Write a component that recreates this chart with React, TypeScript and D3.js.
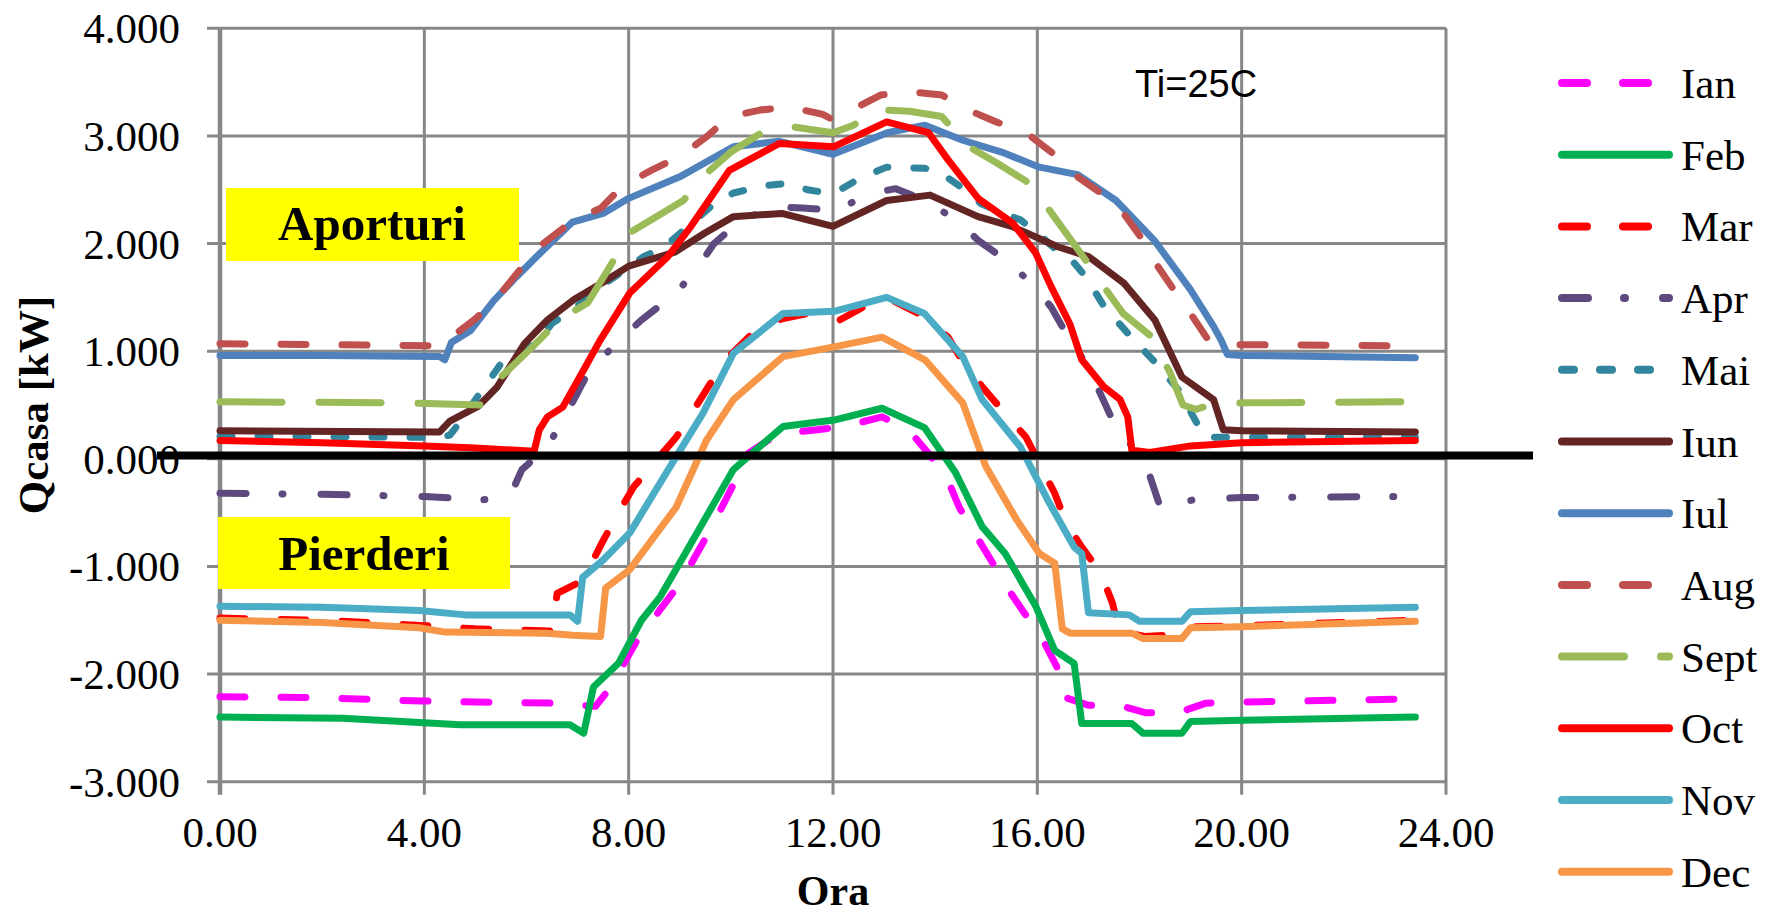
import React from 'react';
import * as d3 from 'd3';

type Pt = [number, number];

const months = ['Ian', 'Feb', 'Mar', 'Apr', 'Mai', 'Iun', 'Iul', 'Aug', 'Sept', 'Oct', 'Nov', 'Dec'];
const yTicks = [-3, -2, -1, 0, 1, 2, 3, 4];
const xTicks = [0, 4, 8, 12, 16, 20, 24];
const zeroLineValue = 0.03;

const ian: Pt[] = [[0,-2.21],[2,-2.22],[3.94,-2.25],[5,-2.26],[6.5,-2.27],[7.35,-2.3],[7.65,-2.12],[8.17,-1.68],[8.62,-1.4],[9.0,-1.16],[9.3,-0.91],[9.6,-0.66],[9.9,-0.38],[10.12,-0.17],[10.34,0.05],[10.72,0.17],[11.09,0.24],[11.7,0.27],[12.22,0.3],[12.96,0.39],[13.48,0.27],[13.87,0.05],[14.25,-0.2],[14.47,-0.45],[14.77,-0.69],[15.09,-0.94],[15.44,-1.22],[15.74,-1.43],[16.04,-1.62],[16.38,-1.93],[16.49,-2.21],[17.0,-2.29],[17.6,-2.29],[18.13,-2.36],[18.75,-2.36],[19.3,-2.27],[20,-2.26],[23.4,-2.23]];
const feb: Pt[] = [[0,-2.4],[2.4,-2.41],[4.7,-2.47],[6.85,-2.47],[7.12,-2.55],[7.31,-2.12],[7.8,-1.9],[8.25,-1.5],[8.62,-1.28],[9.07,-0.91],[10.05,-0.1],[11.02,0.3],[12.02,0.36],[12.96,0.47],[13.79,0.29],[14.4,-0.13],[14.92,-0.63],[15.37,-0.88],[15.97,-1.37],[16.34,-1.78],[16.72,-1.9],[16.87,-2.46],[17.85,-2.46],[18.07,-2.55],[18.83,-2.55],[19.0,-2.44],[20,-2.43],[23.4,-2.4]];
const mar: Pt[] = [[0,-1.48],[2,-1.5],[4,-1.55],[5,-1.58],[6.5,-1.6],[6.6,-1.25],[7.1,-1.13],[7.5,-0.76],[7.8,-0.5],[8.1,-0.26],[8.55,-0.01],[8.93,0.2],[9.23,0.42],[9.6,0.7],[9.9,0.92],[10.5,1.2],[11.0,1.3],[11.5,1.35],[12.13,1.29],[12.75,1.45],[13.05,1.5],[13.8,1.32],[14.25,1.13],[14.6,0.86],[14.92,0.67],[15.37,0.42],[15.78,0.2],[16.04,-0.04],[16.34,-0.32],[16.57,-0.6],[16.87,-0.82],[17.24,-1.06],[17.47,-1.34],[17.6,-1.6],[18.1,-1.65],[18.9,-1.63],[19.1,-1.56],[20,-1.55],[23.4,-1.5]];
const apr: Pt[] = [[0,-0.32],[2,-0.33],[4,-0.35],[5.15,-0.38],[5.6,-0.36],[5.73,-0.29],[5.91,-0.1],[6.41,0.11],[6.85,0.48],[7.16,0.76],[7.7,1.05],[8.25,1.29],[8.93,1.54],[9.37,1.79],[9.67,2.0],[10.2,2.22],[10.87,2.34],[11.4,2.33],[12.07,2.31],[12.75,2.47],[13.23,2.51],[13.7,2.42],[14.43,2.22],[14.84,2.03],[15.37,1.85],[15.89,1.63],[16.27,1.41],[16.57,1.16],[17.0,0.85],[17.23,0.61],[17.5,0.33],[18.07,-0.01],[18.21,-0.17],[18.4,-0.44],[19.07,-0.38],[20,-0.36],[23.4,-0.35]];
const mai: Pt[] = [[0,0.21],[4.3,0.2],[4.5,0.22],[4.68,0.33],[5.0,0.55],[5.36,0.79],[5.6,0.95],[6.2,1.07],[6.5,1.26],[6.8,1.35],[7.16,1.48],[7.6,1.65],[8.3,1.88],[8.7,1.97],[9.6,2.34],[10.05,2.47],[10.7,2.54],[11.13,2.56],[11.5,2.5],[11.9,2.47],[12.14,2.5],[12.43,2.58],[12.75,2.65],[13.05,2.71],[13.8,2.7],[14.13,2.65],[14.46,2.54],[14.9,2.37],[15.33,2.28],[15.67,2.22],[16.0,2.1],[16.3,1.97],[16.72,1.82],[16.95,1.69],[17.3,1.42],[17.8,1.15],[18.3,0.9],[18.8,0.62],[19.1,0.35],[19.3,0.2],[20,0.2],[23.4,0.2]];
const iun: Pt[] = [[0,0.26],[4.3,0.25],[4.5,0.35],[5.06,0.49],[5.43,0.67],[5.96,1.07],[6.41,1.29],[6.93,1.48],[7.5,1.64],[8.0,1.79],[8.9,1.92],[9.5,2.1],[10.05,2.25],[11.0,2.28],[12.0,2.16],[13.05,2.4],[13.9,2.45],[14.84,2.25],[15.5,2.16],[16.4,1.97],[17.0,1.88],[17.7,1.63],[18.3,1.29],[18.83,0.76],[19.45,0.55],[19.64,0.27],[20,0.26],[23.4,0.25]];
const iul: Pt[] = [[0,0.96],[2,0.96],[4.3,0.95],[4.4,0.92],[4.53,1.08],[4.9,1.19],[5.36,1.47],[5.8,1.69],[6.2,1.88],[6.9,2.2],[7.5,2.28],[8.0,2.42],[9.0,2.62],[10.05,2.9],[10.95,2.95],[12.0,2.83],[13.06,3.03],[13.8,3.1],[14.54,2.96],[15.3,2.85],[16.04,2.71],[16.79,2.64],[17.54,2.4],[18.29,2.03],[19.0,1.57],[19.45,1.23],[19.6,1.1],[19.72,0.97],[20,0.96],[23.4,0.94]];
const aug: Pt[] = [[0,1.07],[4.3,1.05],[4.5,1.12],[5.0,1.3],[5.4,1.48],[6.03,1.85],[6.33,2.0],[6.93,2.22],[7.46,2.33],[7.87,2.53],[8.44,2.68],[9.0,2.81],[9.52,2.99],[9.97,3.18],[10.57,3.24],[11.13,3.27],[11.8,3.2],[12.0,3.15],[12.93,3.38],[13.5,3.41],[14.13,3.38],[14.65,3.24],[15.2,3.13],[15.78,3.03],[16.3,2.84],[16.7,2.65],[17.24,2.47],[17.69,2.28],[18.07,2.03],[18.37,1.78],[18.7,1.55],[19.0,1.35],[19.35,1.1],[19.5,1.06],[20,1.06],[23.4,1.05]];
const sept: Pt[] = [[0,0.53],[3.6,0.52],[5.1,0.5],[5.5,0.76],[6.18,1.07],[6.64,1.29],[7.2,1.45],[7.65,1.8],[8.02,2.1],[9.07,2.4],[9.52,2.65],[10.0,2.85],[10.57,3.02],[11.13,3.09],[12.0,3.03],[12.4,3.1],[12.96,3.24],[13.5,3.23],[14.13,3.18],[14.66,2.9],[15.2,2.75],[15.78,2.58],[16.19,2.34],[16.94,1.85],[17.3,1.6],[17.68,1.35],[18.2,1.15],[18.6,0.8],[18.85,0.5],[19.1,0.46],[19.4,0.5],[20,0.52],[23.4,0.53]];
const oct: Pt[] = [[0,0.17],[2,0.15],[4,0.12],[5,0.1],[6.15,0.07],[6.25,0.27],[6.41,0.39],[6.71,0.48],[7.16,0.86],[7.44,1.1],[8.02,1.54],[8.77,1.88],[9.22,2.16],[9.97,2.68],[10.95,2.93],[12.02,2.9],[13.05,3.13],[13.87,3.03],[14.25,2.78],[14.84,2.42],[15.52,2.19],[15.97,1.91],[16.27,1.6],[16.64,1.25],[16.87,0.92],[17.3,0.67],[17.62,0.55],[17.77,0.39],[17.85,0.08],[18.2,0.06],[19.0,0.12],[20,0.15],[23.4,0.17]];
const nov: Pt[] = [[0,-1.37],[2,-1.38],[3.9,-1.41],[4.8,-1.45],[6.85,-1.45],[7.0,-1.51],[7.1,-1.1],[7.5,-0.94],[8.02,-0.69],[8.93,0.02],[9.45,0.42],[10.05,0.98],[11.02,1.35],[12.02,1.37],[13.05,1.5],[13.79,1.35],[14.54,0.95],[14.92,0.55],[15.67,0.11],[16.2,-0.38],[16.72,-0.82],[16.87,-0.88],[17.0,-1.43],[17.8,-1.45],[18.0,-1.51],[18.83,-1.51],[19.0,-1.42],[20,-1.41],[23.4,-1.38]];
const dec: Pt[] = [[0,-1.5],[2,-1.52],[3.9,-1.57],[4.4,-1.61],[6.4,-1.62],[6.9,-1.64],[7.45,-1.65],[7.55,-1.2],[8.02,-1.03],[8.93,-0.45],[9.52,0.17],[10.05,0.55],[11.02,0.95],[12.02,1.04],[12.96,1.13],[13.8,0.92],[14.54,0.52],[14.99,-0.07],[15.6,-0.57],[16.04,-0.88],[16.34,-0.97],[16.49,-1.58],[16.64,-1.62],[17.85,-1.62],[18.07,-1.67],[18.83,-1.67],[19.0,-1.57],[20,-1.56],[23.4,-1.51]];

const seriesData: Pt[][] = [ian, feb, mar, apr, mai, iun, iul, aug, sept, oct, nov, dec];
const seriesColors = ['#FF00FF', '#00B050', '#FF0000', '#5F4A7F', '#31859C', '#632523', '#4F81BD', '#C0504D', '#9BBB59', '#FF0000', '#4BACC6', '#F79646'];
const seriesDash = ['25 36', '', '25 36', '26 36 1 38', '12 26', '', '', '25 36', '62 37', '', '', ''];

const W = 1771;
const H = 917;
const serif = '"Liberation Serif", "Times New Roman", serif';
const sans = '"Liberation Sans", Arial, sans-serif';

export default function App() {
  const x = d3.scaleLinear().domain([0, 24]).range([220, 1446]);
  const y = d3.scaleLinear().domain([-3, 4]).range([781.7, 28.3]);
  const line = d3.line<Pt>().x(d => x(d[0])).y(d => y(d[1]));
  const fy = (v: number) => d3.format('.3f')(v).replace('\u2212', '-');
  const fx = d3.format('.2f');
  const grid = '#878787';
  const legendY0 = 83;
  const legendStep = 71.7;

  return (
    <svg width={W} height={H} style={{ position: 'absolute', left: 0, top: 0, background: '#fff' }}>
      <rect x={0} y={0} width={W} height={H} fill="#fff" />
      {yTicks.map(t => (
        <line key={'gy' + t} x1={x(0) - 13} x2={x(24)} y1={y(t)} y2={y(t)} stroke={grid} strokeWidth={3} />
      ))}
      {xTicks.map(t => (
        <line key={'gx' + t} x1={x(t)} x2={x(t)} y1={y(4)} y2={y(-3) + 13} stroke={grid} strokeWidth={t === 0 ? 4.5 : 3} />
      ))}
      {yTicks.map(t => (
        <text key={'ly' + t} x={180} y={y(t)} dy="0.35em" textAnchor="end" fontFamily={serif} fontSize={43} fill="#000">{fy(t)}</text>
      ))}
      {xTicks.map(t => (
        <text key={'lx' + t} x={x(t)} y={847} textAnchor="middle" fontFamily={serif} fontSize={43} fill="#000">{fx(t)}</text>
      ))}
      <text x={(x(0) + x(24)) / 2} y={905} textAnchor="middle" fontFamily={serif} fontWeight="bold" fontSize={42} fill="#000">Ora</text>
      <text transform="translate(48,405) rotate(-90)" textAnchor="middle" fontFamily={serif} fontWeight="bold" fontSize={43} fill="#000">Qcasa [kW]</text>

      <rect x={226} y={188} width={293} height={73} fill="#FFFF00" />
      <text x={372} y={240} textAnchor="middle" fontFamily={serif} fontWeight="bold" fontSize={49} fill="#000">Aporturi</text>
      <rect x={218} y={517} width={292} height={72} fill="#FFFF00" />
      <text x={364} y={570} textAnchor="middle" fontFamily={serif} fontWeight="bold" fontSize={49} fill="#000">Pierderi</text>

      {seriesData.map((s, i) => (
        <path key={'s' + i} d={line(s) || ''} fill="none" stroke={seriesColors[i]} strokeWidth={7}
          strokeDasharray={seriesDash[i] || undefined} strokeLinecap="round" strokeLinejoin="round" />
      ))}

      <line x1={157} x2={1533} y1={y(zeroLineValue)} y2={y(zeroLineValue)} stroke="#000" strokeWidth={8} />

      <text x={1135} y={97} fontFamily={sans} fontSize={38} fill="#000">Ti=25C</text>

      {months.map((m, i) => {
        const ly = legendY0 + i * legendStep;
        return (
          <g key={'lg' + m}>
            <line x1={1562} x2={1669} y1={ly} y2={ly} stroke={seriesColors[i]} strokeWidth={8}
              strokeDasharray={seriesDash[i] || undefined} strokeLinecap="round" />
            <text x={1681} y={ly + 15} fontFamily={serif} fontSize={43} fill="#000">{m}</text>
          </g>
        );
      })}
    </svg>
  );
}
